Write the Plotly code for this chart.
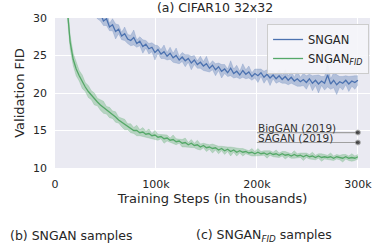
import plotly.graph_objects as go

steps = list(range(3, 301, 3))  # training steps in thousands

sngan_fid = [80, 70, 62, 56, 51, 47, 44, 41, 38, 36, 34, 32.5,
             31.2, 30.4, 30.6, 29.6, 29.9, 28.8, 29.1, 28.2, 28.5, 27.6,
             27.9, 27.2, 27.0, 27.4, 26.6, 26.9, 26.2, 26.5, 25.9, 26.1,
             25.4, 25.8, 25.2, 25.5, 24.9, 25.3, 24.7, 25.0, 24.4, 24.8,
             24.3, 24.6, 24.0, 24.4, 23.8, 24.1, 23.6, 23.9, 23.3, 23.7,
             23.1, 23.5, 22.9, 23.2, 22.7, 23.3, 22.6, 22.9, 22.4, 23.0,
             22.5, 22.8, 22.2, 22.6, 22.3, 22.7, 22.1, 22.5, 22.0, 22.4,
             21.9, 22.3, 21.8, 22.2, 21.7, 22.1, 21.6, 21.9, 21.5, 21.8,
             21.4, 21.9, 21.3, 21.7, 21.2, 21.6, 21.3, 22.4, 21.2, 21.7,
             21.1, 21.5, 21.3, 21.7, 21.2, 21.6, 21.4, 21.7]
sngan_spread = [1.0, 1.0, 0.9, 0.9, 0.8, 0.8, 0.8, 0.7, 0.7, 0.7, 0.7, 0.6,
                0.7, 0.5, 1.0, 0.6, 0.9, 0.5, 0.8, 1.0, 0.6, 0.5, 0.9, 0.6,
                0.7, 1.0, 0.5, 0.6, 0.9, 0.5, 0.7, 0.6, 1.0, 0.5, 0.6, 0.9,
                0.5, 0.8, 0.6, 1.0, 0.5, 0.6, 0.8, 0.5, 0.9, 0.6, 0.5, 0.8,
                0.6, 1.0, 0.5, 0.6, 0.8, 0.5, 0.9, 0.6, 0.5, 1.0, 0.6, 0.8,
                0.5, 0.9, 0.6, 0.8, 0.5, 0.6, 0.9, 0.5, 0.8, 0.6, 1.0, 0.5,
                0.6, 0.8, 0.5, 0.9, 0.6, 0.8, 0.5, 1.0, 0.6, 0.8, 0.9, 0.6,
                1.0, 0.7, 1.2, 0.6, 0.9, 1.6, 0.7, 1.0, 1.3, 0.7, 0.9, 0.6,
                1.0, 0.7, 0.9, 0.6]

sngan_fid_fid = [60, 48, 38, 31.5, 26.8, 24.5, 23.2, 22.3, 21.5, 20.8,
                 20.2, 19.7, 19.2, 18.8, 18.4, 18.1, 17.7, 17.4, 17.1, 16.8,
                 16.4, 16.1, 15.8, 15.5, 15.3, 15.0, 15.0, 14.7, 14.8, 14.5,
                 14.6, 14.3, 14.4, 14.1, 14.2, 13.9, 14.0, 13.7, 13.8, 13.5,
                 13.6, 13.3, 13.4, 13.1, 13.3, 13.0, 13.1, 12.8, 13.0, 12.7,
                 12.8, 12.6, 12.7, 12.4, 12.6, 12.3, 12.5, 12.2, 12.4, 12.1,
                 12.3, 12.1, 12.2, 12.0, 12.1, 11.9, 12.1, 11.9, 12.0, 11.8,
                 12.0, 11.8, 11.9, 11.7, 11.9, 11.7, 11.8, 11.6, 11.8, 11.6,
                 11.7, 11.5, 11.7, 11.5, 11.6, 11.4, 11.6, 11.4, 11.5, 11.4,
                 11.5, 11.3, 11.5, 11.4, 11.3, 11.5, 11.3, 11.4, 11.3, 11.5]
sngan_fid_spread = [1.5, 1.3, 1.1, 1.0, 0.9, 0.8, 0.9, 0.7, 0.9, 0.6,
                    0.8, 0.6, 0.8, 0.5, 0.7, 0.8, 0.5, 0.7, 0.5, 0.7,
                    0.4, 0.6, 0.7, 0.4, 0.6, 0.4, 0.7, 0.4, 0.6, 0.4,
                    0.6, 0.3, 0.6, 0.4, 0.3, 0.6, 0.4, 0.3, 0.6, 0.4,
                    0.3, 0.5, 0.6, 0.3, 0.5, 0.3, 0.6, 0.4, 0.3, 0.5,
                    0.3, 0.6, 0.3, 0.5, 0.3, 0.5, 0.3, 0.6, 0.3, 0.5,
                    0.3, 0.5, 0.3, 0.3, 0.5, 0.3, 0.5, 0.3, 0.3, 0.5,
                    0.3, 0.3, 0.5, 0.3, 0.3, 0.5, 0.3, 0.3, 0.5, 0.3,
                    0.3, 0.5, 0.3, 0.3, 0.5, 0.3, 0.3, 0.5, 0.3, 0.3,
                    0.5, 0.3, 0.3, 0.3, 0.5, 0.3, 0.3, 0.5, 0.3, 0.3]

ref_names = ["BigGAN (2019)", "SAGAN (2019)"]
ref_fid = [14.73, 13.4]
ref_span = [200, 300]

x_tick_vals = [0, 100, 200, 300]
x_tick_text = ["0", "100k", "200k", "300k"]
y_tick_vals = [10, 15, 20, 25, 30]

BLUE = "#4C72B0"
GREEN = "#55A868"
FONT = "DejaVu Sans"
TXT = "#262626"

fig = go.Figure()


def add_series(mean, spread, color, fillcolor, name):
    lower = [m - s for m, s in zip(mean, spread)]
    upper = [m + s for m, s in zip(mean, spread)]
    fig.add_trace(go.Scatter(x=steps, y=lower, mode="lines", line=dict(width=0.6, color=fillcolor),
                             showlegend=False, hoverinfo="skip"))
    fig.add_trace(go.Scatter(x=steps, y=upper, mode="lines", line=dict(width=0.6, color=fillcolor),
                             fill="tonexty", fillcolor=fillcolor, showlegend=False, hoverinfo="skip"))
    fig.add_trace(go.Scatter(x=steps, y=mean, mode="lines", line=dict(width=1.3, color=color),
                             name=name))


add_series(sngan_fid, sngan_spread, BLUE, "rgba(76,114,176,0.35)", "SNGAN")
add_series(sngan_fid_fid, sngan_fid_spread, GREEN, "rgba(85,168,104,0.35)", "SNGAN<sub><i>FID</i></sub>")

for name, v in zip(ref_names, ref_fid):
    fig.add_trace(go.Scatter(x=ref_span, y=[v, v], mode="lines+markers",
                             line=dict(color="#a0a0a0", width=1.2),
                             marker=dict(size=[0, 5], color="#111111"),
                             showlegend=False, hoverinfo="skip"))
    fig.add_annotation(x=ref_span[0], y=v, text=name, xanchor="left", yanchor="bottom",
                       showarrow=False, xshift=-1, yshift=-3,
                       font=dict(family=FONT, size=10.5, color="#333333"))

fig.update_layout(
    width=382, height=245,
    margin=dict(l=55, r=10, t=18, b=77),
    paper_bgcolor="white",
    plot_bgcolor="#EAEAF2",
    font=dict(family=FONT, size=11, color=TXT),
    title=dict(text="(a) CIFAR10 32x32", x=0.563, xanchor="center", y=0.967, yanchor="middle",
               font=dict(family=FONT, size=12.5, color=TXT)),
    legend=dict(x=0.997, y=0.96, xanchor="right", yanchor="top",
                bgcolor="rgba(245,245,249,0.9)", bordercolor="#cccccc", borderwidth=1,
                font=dict(family=FONT, size=11.5, color=TXT),
                itemwidth=30, tracegroupgap=0, traceorder="normal"),
    showlegend=True,
)

fig.update_xaxes(range=[0, 312], tickvals=x_tick_vals, ticktext=x_tick_text,
                 showgrid=True, gridcolor="white", gridwidth=1, zeroline=False,
                 showline=False, ticks="", ticklabelstandoff=8,
                 tickfont=dict(family=FONT, size=11, color=TXT),
                 title=dict(text="Training Steps (in thousands)", standoff=2,
                            font=dict(family=FONT, size=13, color=TXT)))
fig.update_yaxes(range=[10, 30], tickvals=y_tick_vals,
                 showgrid=True, gridcolor="white", gridwidth=1, zeroline=False,
                 showline=False, ticks="", ticklabelstandoff=7,
                 tickfont=dict(family=FONT, size=11, color=TXT),
                 title=dict(text="Validation FID", standoff=5,
                            font=dict(family=FONT, size=13, color=TXT)))

fig.add_annotation(x=(8 - 55) / 317, y=(168 - 235) / 150, xref="paper", yref="paper",
                   text="(b) SNGAN samples",
                   showarrow=False, xanchor="left", yanchor="middle",
                   font=dict(family=FONT, size=12.5, color=TXT))
fig.add_annotation(x=(195 - 55) / 317, y=(168 - 235) / 150, xref="paper", yref="paper",
                   text="(c) SNGAN<sub><i>FID</i></sub> samples",
                   showarrow=False, xanchor="left", yanchor="middle",
                   font=dict(family=FONT, size=12.5, color=TXT))

fig.write_html("out.html", config={"displayModeBar": False},
               post_script="document.body.style.margin='0';")
